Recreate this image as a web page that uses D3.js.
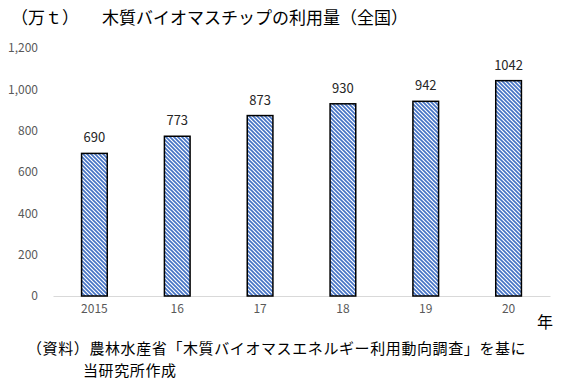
<!DOCTYPE html>
<html>
<head>
<meta charset="utf-8">
<script src="https://cdn.jsdelivr.net/npm/d3@7"></script>
<style>
  body { margin: 0; background: #fff; }
  text { font-family: "Noto Sans CJK JP", "Noto Sans", sans-serif; }
</style>
</head>
<body>
<div id="chart"></div>
<script>
// data
var years = ["2015", "16", "17", "18", "19", "20"];
var chipVolume = [690, 773, 873, 930, 942, 1042];
var yTicks = [0, 200, 400, 600, 800, 1000, 1200];

var svgWidth = 563;
var svgHeight = 385;

var margin = { top: 48, right: 13, bottom: 89, left: 53 };
var width = svgWidth - margin.left - margin.right;
var height = svgHeight - margin.top - margin.bottom;

var svg = d3.select("#chart")
  .append("svg")
  .attr("width", svgWidth)
  .attr("height", svgHeight);

// striped fill for bars (top-left to bottom-right)
var defs = svg.append("defs");
var pat = defs.append("pattern")
  .attr("id", "stripes")
  .attr("patternUnits", "userSpaceOnUse")
  .attr("width", 4)
  .attr("height", 4);
pat.append("rect").attr("width", 4).attr("height", 4).attr("fill", "#fff");
pat.append("path")
  .attr("d", "M-1,-1 L5,5 M-1,3 L1,5 M3,-1 L5,1")
  .attr("stroke", "#4472C4")
  .attr("stroke-width", 1.6);

var chartGroup = svg.append("g")
  .attr("transform", `translate(${margin.left}, ${margin.top})`);

var xScale = d3.scaleBand()
  .domain(years)
  .range([0, width])
  .paddingInner(0.69)
  .paddingOuter(0.345);

var yScale = d3.scaleLinear()
  .domain([0, 1200])
  .range([height, 0]);

// y axis labels only
var leftAxis = d3.axisLeft(yScale)
  .tickValues(yTicks)
  .tickSize(0)
  .tickPadding(15)
  .tickFormat(d3.format(","));

var yAxis = chartGroup.append("g").call(leftAxis);
yAxis.select(".domain").remove();
yAxis.selectAll("text")
  .attr("fill", "#595959")
  .style("font-size", "12px");

// baseline
var bottomAxis = d3.axisBottom(xScale).tickSize(0).tickPadding(8);
var xAxis = chartGroup.append("g")
  .attr("transform", `translate(0, ${height})`)
  .call(bottomAxis);
xAxis.select(".domain").attr("stroke", "#d9d9d9").attr("stroke-width", 1);
xAxis.selectAll("text")
  .attr("fill", "#595959")
  .style("font-size", "12px");

var data = years.map(function (y, i) { return { year: y, value: chipVolume[i] }; });

chartGroup.selectAll(".bar")
  .data(data)
  .enter()
  .append("rect")
  .attr("class", "bar")
  .attr("x", d => xScale(d.year))
  .attr("y", d => yScale(d.value))
  .attr("width", xScale.bandwidth())
  .attr("height", d => height - yScale(d.value))
  .attr("fill", "url(#stripes)")
  .attr("stroke", "#000")
  .attr("stroke-width", 1.5);

chartGroup.selectAll(".valueLabel")
  .data(data)
  .enter()
  .append("text")
  .attr("class", "valueLabel")
  .attr("x", d => xScale(d.year) + xScale.bandwidth() / 2)
  .attr("y", d => yScale(d.value) - 11)
  .attr("text-anchor", "middle")
  .attr("fill", "#262626")
  .style("font-size", "13px")
  .text(d => d.value);

// titles and notes
svg.append("text")
  .attr("x", 11)
  .attr("y", 24)
  .style("font-size", "17px")
  .attr("fill", "#000")
  .text("（万ｔ）");

svg.append("text")
  .attr("x", 102)
  .attr("y", 24)
  .style("font-size", "17px")
  .attr("fill", "#000")
  .text("木質バイオマスチップの利用量（全国）");

svg.append("text")
  .attr("x", 537)
  .attr("y", 328)
  .style("font-size", "16px")
  .attr("fill", "#000")
  .text("年");

svg.append("text")
  .attr("x", 27)
  .attr("y", 353.5)
  .style("font-size", "15px")
  .style("letter-spacing", "0.6px")
  .attr("fill", "#000")
  .text("（資料）農林水産省「木質バイオマスエネルギー利用動向調査」を基に");

svg.append("text")
  .attr("x", 83)
  .attr("y", 375.5)
  .style("font-size", "15px")
  .style("letter-spacing", "0.6px")
  .attr("fill", "#000")
  .text("当研究所作成");
</script>
</body>
</html>
